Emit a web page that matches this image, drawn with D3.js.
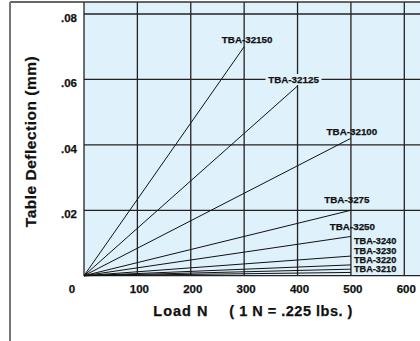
<!DOCTYPE html>
<html>
<head>
<meta charset="utf-8">
<style>
  body { margin: 0; background: #fff; }
  svg { display: block; font-family: "Liberation Sans", Arial, Helvetica, sans-serif; font-weight: bold; }
  .grid line { stroke: #222; stroke-width: 1.3; }
  .series { fill: none; stroke: #111; stroke-width: 1; }
  text { stroke: #111; stroke-width: 0.25; }
</style>
</head>
<body>
<script src="https://cdnjs.cloudflare.com/ajax/libs/d3/7.8.5/d3.min.js"></script>
<script>
// data
var models   = ["TBA-32150", "TBA-32125", "TBA-32100", "TBA-3275", "TBA-3250", "TBA-3240", "TBA-3230", "TBA-3220", "TBA-3210"];
var maxLoad  = [300, 400, 500, 500, 500, 500, 500, 500, 500];          // N
var maxDefl  = [0.070, 0.058, 0.042, 0.020, 0.012, 0.006, 0.0033, 0.002, 0.001]; // mm
var xTicks   = [0, 100, 200, 300, 400, 500, 600];
var yTicks   = [0.02, 0.04, 0.06, 0.08];
var yLabels  = [".02", ".04", ".06", ".08"];

var W = 420, H = 341;
var svg = d3.select("body").append("svg").attr("width", W).attr("height", H);

var x = d3.scaleLinear().domain([0, 600]).range([84, 404.3]);
var y = d3.scaleLinear().domain([0, 0.08]).range([275.7, 14]);

// plot background (runs off the right edge)
svg.append("rect")
    .attr("x", x(0)).attr("y", 2)
    .attr("width", W - x(0) + 5).attr("height", y(0) - 2)
    .attr("fill", "#dff1fb");

// grid
var grid = svg.append("g").attr("class", "grid");
grid.selectAll(".v").data(xTicks).enter().append("line")
    .attr("x1", function(d) { return x(d); }).attr("x2", function(d) { return x(d); })
    .attr("y1", 2).attr("y2", y(0));
grid.selectAll(".h").data([0].concat(yTicks)).enter().append("line")
    .attr("x1", x(0)).attr("x2", W)
    .attr("y1", function(d) { return y(d); }).attr("y2", function(d) { return y(d); });

// outer frame
svg.append("line").attr("x1", 10).attr("x2", W).attr("y1", 2).attr("y2", 2)
    .attr("stroke", "#333").attr("stroke-width", 1.5);
svg.append("line").attr("x1", 10).attr("x2", 10).attr("y1", 2).attr("y2", H)
    .attr("stroke", "#777").attr("stroke-width", 2);

// series lines, all from the origin
var rows = models.map(function(m, i) { return {name: m, load: maxLoad[i], defl: maxDefl[i]}; });
svg.append("g").selectAll("line").data(rows).enter().append("line")
    .attr("class", "series")
    .attr("x1", x(0)).attr("y1", y(0))
    .attr("x2", function(d) { return x(d.load); })
    .attr("y2", function(d) { return y(d.defl); });

// labels: placement relative to line end; the four smallest are stacked above the axis
var labelPos = {
  "TBA-32150": {dx: 3,  dy: -4,  anchor: "middle"},
  "TBA-32125": {dx: -4, dy: -3,  anchor: "middle", knock: true},
  "TBA-32100": {dx: 1,  dy: -3,  anchor: "middle"},
  "TBA-3275":  {dx: -4, dy: -7,  anchor: "middle"},
  "TBA-3250":  {dx: 1.5, dy: -6, anchor: "middle"},
  "TBA-3240":  {dx: 3, stack: 3, anchor: "start"},
  "TBA-3230":  {dx: 3, stack: 2, anchor: "start"},
  "TBA-3220":  {dx: 3, stack: 1, anchor: "start"},
  "TBA-3210":  {dx: 3, stack: 0, anchor: "start"}
};
var lab = svg.append("g").attr("font-size", 9.8).attr("fill", "#111");
rows.forEach(function(d) {
  var p = labelPos[d.name];
  var lx = x(d.load) + p.dx;
  var ly = p.stack === undefined ? y(d.defl) + p.dy : y(0) - 3.5 - p.stack * 9.3;
  if (p.knock) {
    lab.append("rect").attr("x", lx - 28).attr("y", ly - 9).attr("width", 56).attr("height", 11)
        .attr("fill", "#dff1fb").attr("stroke", "none");
  }
  lab.append("text").attr("x", lx).attr("y", ly).attr("text-anchor", p.anchor)
      .attr("font-size", p.stack === undefined ? null : 9.2)
      .text(d.name);
});

// tick labels
svg.append("g").attr("font-size", 11.5).attr("fill", "#111").attr("text-anchor", "middle")
  .selectAll("text").data(xTicks).enter().append("text")
    .attr("x", function(d) { return d === 0 ? x(d) - 12 : x(d) + 2; })
    .attr("y", 293)
    .text(function(d) { return d; });
svg.append("g").attr("font-size", 11.5).attr("fill", "#111").attr("text-anchor", "end")
  .selectAll("text").data(yTicks).enter().append("text")
    .attr("x", 77)
    .attr("y", function(d) { return y(d) + 8; })
    .text(function(d, i) { return yLabels[i]; });

// axis titles
svg.append("text").attr("x", 153.3).attr("y", 316).attr("font-size", 14.5)
    .attr("letter-spacing", 1.0).attr("fill", "#111").text("Load N");
svg.append("text").attr("x", 229.3).attr("y", 316).attr("font-size", 14.5)
    .attr("letter-spacing", 0.5).attr("fill", "#111").text("( 1 N = .225 lbs. )");
svg.append("text")
    .attr("transform", "translate(36," + 141.5 + ") rotate(-90)")
    .attr("text-anchor", "middle").attr("font-size", 15.5)
    .attr("letter-spacing", 0.5).attr("fill", "#111")
    .text("Table Deflection (mm)");
</script>
</body>
</html>
